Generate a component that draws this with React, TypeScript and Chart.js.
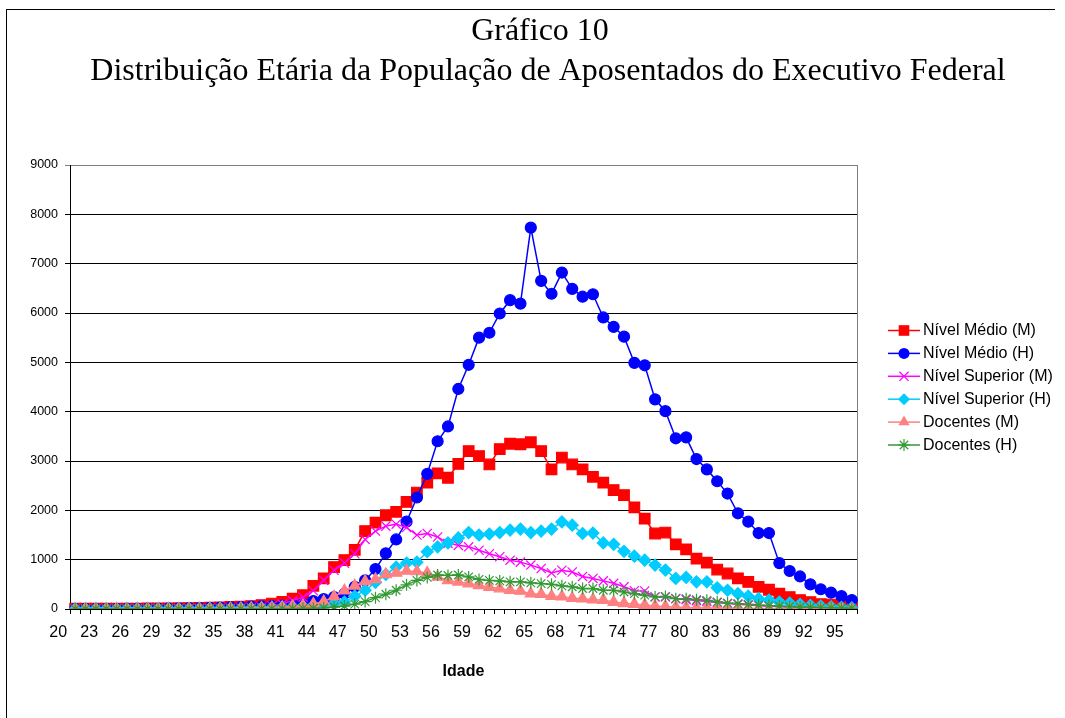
import React, { useEffect, useRef } from 'react';
import { Chart, registerables } from 'chart.js';

Chart.register(...registerables);

const ages = [
  '20', '21', '22', '23', '24', '25', '26', '27', '28', '29',
  '30', '31', '32', '33', '34', '35', '36', '37', '38', '39',
  '40', '41', '42', '43', '44', '45', '46', '47', '48', '49',
  '50', '51', '52', '53', '54', '55', '56', '57', '58', '59',
  '60', '61', '62', '63', '64', '65', '66', '67', '68', '69',
  '70', '71', '72', '73', '74', '75', '76', '77', '78', '79',
  '80', '81', '82', '83', '84', '85', '86', '87', '88', '89',
  '90', '91', '92', '93', '94', '95',
];

const shownAgeLabels = [
  '20', '23', '26', '29', '32', '35', '38', '41', '44', '47', '50', '53', '56',
  '59', '62', '65', '68', '71', '74', '77', '80', '83', '86', '89', '92', '95',
];

const nivelMedioM = [
  5, 5, 5, 5, 5, 8, 8, 10, 10, 12,
  15, 18, 20, 25, 30, 40, 50, 60, 80, 110,
  145, 210, 280, 470, 620, 850, 990, 1200, 1580, 1750,
  1900, 1970, 2170, 2360, 2560, 2750, 2660, 2940, 3200, 3100,
  2930, 3240, 3350, 3340, 3380, 3200, 2830, 3070, 2930, 2830,
  2680, 2560, 2410, 2310, 2060, 1830, 1530, 1550, 1310, 1210,
  1020, 940, 800, 720, 620, 550, 450, 390, 310, 240,
  180, 140, 100, 90, 70, 35,
];

const nivelMedioH = [
  5, 5, 5, 5, 5, 8, 8, 10, 10, 12,
  15, 18, 20, 25, 30, 35, 40, 50, 55, 60,
  70, 85, 110, 160, 200, 240, 310, 450, 580, 810,
  1130, 1410, 1770, 2260, 2740, 3400, 3700, 4460, 4950, 5500,
  5600, 5990, 6260, 6190, 7730, 6650, 6390, 6820, 6490, 6330,
  6380, 5910, 5720, 5520, 4990, 4940, 4250, 4010, 3460, 3480,
  3040, 2830, 2590, 2340, 1940, 1770, 1540, 1540, 930, 770,
  660, 500, 400, 330, 260, 180,
];

const nivelSuperiorM = [
  2, 2, 2, 2, 3, 3, 4, 4, 5, 5,
  6, 7, 8, 10, 12, 15, 20, 25, 35, 60,
  100, 170, 240, 370, 580, 785, 930, 1120, 1410, 1580,
  1680, 1720, 1650, 1500, 1530, 1460, 1330, 1290, 1260, 1190,
  1120, 1060, 990, 950, 890, 820, 730, 785, 750, 660,
  620, 570, 520, 450, 370, 365, 245, 245, 210, 190,
  170, 150, 130, 110, 95, 80, 65, 55, 45, 35,
  30, 25, 20, 15, 12, 10,
];

const nivelSuperiorH = [
  1, 1, 1, 1, 1, 2, 2, 2, 3, 3,
  4, 4, 5, 6, 8, 10, 12, 15, 20, 25,
  30, 40, 55, 70, 90, 110, 140, 260, 380, 540,
  700, 850, 930, 950, 1160, 1260, 1340, 1440, 1550, 1500,
  1520, 1550, 1600, 1620, 1550, 1580, 1620, 1765, 1700, 1530,
  1540, 1340, 1310, 1170, 1070, 990, 890, 790, 620, 640,
  550, 550, 430, 380, 310, 260, 210, 180, 140, 120,
  95, 75, 60, 45, 35, 25,
];

const docentesM = [
  1, 1, 1, 1, 1, 1, 2, 2, 2, 3,
  3, 4, 5, 6, 8, 10, 12, 15, 20, 25,
  35, 50, 70, 100, 150, 250, 370, 470, 560, 600,
  700, 730, 770, 760, 730, 650, 580, 550, 515, 480,
  445, 415, 380, 365, 310, 300, 260, 250, 220, 210,
  190, 180, 140, 115, 100, 80, 60, 50, 40, 30,
  25, 20, 18, 15, 12, 10, 8, 7, 6, 5,
  4, 3, 3, 2, 2, 1,
];

const docentesH = [
  0, 0, 0, 0, 0, 0, 1, 1, 1, 1,
  1, 2, 2, 2, 3, 3, 4, 5, 5, 6,
  8, 10, 12, 15, 20, 40, 60, 100, 150, 230,
  300, 380, 490, 580, 640, 690, 680, 690, 650, 600,
  580, 570, 550, 550, 530, 515, 500, 470, 450, 415,
  415, 380, 380, 345, 310, 280, 245, 255, 210, 210,
  190, 175, 145, 120, 110, 95, 80, 70, 60, 50,
  40, 35, 30, 25, 20, 15,
];

const seriesNames = [
  'Nível Médio (M)',
  'Nível Médio (H)',
  'Nível Superior (M)',
  'Nível Superior (H)',
  'Docentes (M)',
  'Docentes (H)',
];

const seriesValues = [nivelMedioM, nivelMedioH, nivelSuperiorM, nivelSuperiorH, docentesM, docentesH];

const titleLines = ['Gráfico 10', 'Distribuição Etária da População de Aposentados do Executivo Federal'];
const xAxisTitle = 'Idade';

const seriesStyles = [
  { color: '#FF0000', point: 'rect', radius: 7.5 },
  { color: '#0000FF', point: 'circle', radius: 5.5 },
  { color: '#FF00FF', point: 'crossRot', radius: 6.5 },
  { color: '#00CCFF', point: 'rectRot', radius: 6 },
  { color: '#FF8080', point: 'triangle', radius: 6.5 },
  { color: '#339933', point: 'star', radius: 6 },
];

const SANS = '"Liberation Sans", Arial, Helvetica, sans-serif';
const SERIF = '"Liberation Serif", "Times New Roman", serif';

function drawMarker(ctx: CanvasRenderingContext2D, style: string, x: number, y: number, r: number, color: string) {
  ctx.save();
  ctx.fillStyle = color;
  ctx.strokeStyle = color;
  ctx.lineWidth = 1.2;
  ctx.beginPath();
  if (style === 'rect') {
    const s = r * Math.SQRT1_2;
    ctx.rect(x - s, y - s, 2 * s, 2 * s);
    ctx.fill();
  } else if (style === 'circle') {
    ctx.arc(x, y, r, 0, Math.PI * 2);
    ctx.fill();
  } else if (style === 'rectRot') {
    ctx.moveTo(x, y - r);
    ctx.lineTo(x + r, y);
    ctx.lineTo(x, y + r);
    ctx.lineTo(x - r, y);
    ctx.closePath();
    ctx.fill();
  } else if (style === 'triangle') {
    for (let k = 0; k < 3; k++) {
      const a = (k * 2 * Math.PI) / 3;
      const px = x + Math.sin(a) * r;
      const py = y - Math.cos(a) * r;
      if (k === 0) ctx.moveTo(px, py);
      else ctx.lineTo(px, py);
    }
    ctx.closePath();
    ctx.fill();
  } else if (style === 'crossRot') {
    const d = r * Math.SQRT1_2;
    ctx.moveTo(x - d, y - d);
    ctx.lineTo(x + d, y + d);
    ctx.moveTo(x - d, y + d);
    ctx.lineTo(x + d, y - d);
    ctx.stroke();
  } else if (style === 'star') {
    const d = r * Math.SQRT1_2;
    ctx.moveTo(x - d, y - d);
    ctx.lineTo(x + d, y + d);
    ctx.moveTo(x - d, y + d);
    ctx.lineTo(x + d, y - d);
    ctx.moveTo(x, y - r);
    ctx.lineTo(x, y + r);
    ctx.moveTo(x - r, y);
    ctx.lineTo(x + r, y);
    ctx.stroke();
  }
  ctx.restore();
}

const decorPlugin = {
  id: 'decor',
  beforeDatasetsDraw(chart: any) {
    const { ctx, chartArea } = chart;
    ctx.save();
    ctx.strokeStyle = '#808080';
    ctx.lineWidth = 1;
    ctx.beginPath();
    ctx.moveTo(chartArea.right + 0.5, chartArea.top);
    ctx.lineTo(chartArea.right + 0.5, chartArea.bottom);
    ctx.stroke();
    ctx.restore();
  },
  afterDraw(chart: any) {
    const { ctx, chartArea } = chart;
    ctx.save();
    // Titles
    ctx.fillStyle = '#000';
    ctx.textAlign = 'center';
    ctx.textBaseline = 'middle';
    ctx.font = `32px ${SERIF}`;
    ctx.fillText(titleLines[0], 540, 32);
    ctx.fillText(titleLines[1], 548, 72);
    // Legend
    const x0 = chartArea.right + 31;
    const y0 = chartArea.top + 165.5;
    const step = 22.9;
    seriesNames.forEach((name, i) => {
      const st = seriesStyles[i];
      const y = y0 + i * step;
      ctx.strokeStyle = st.color;
      ctx.lineWidth = 1.5;
      ctx.beginPath();
      ctx.moveTo(x0, y);
      ctx.lineTo(x0 + 32, y);
      ctx.stroke();
      drawMarker(ctx, st.point, x0 + 16, y, st.radius, st.color);
      ctx.fillStyle = '#000';
      ctx.textAlign = 'left';
      ctx.textBaseline = 'middle';
      ctx.font = `16px ${SANS}`;
      ctx.fillText(name, x0 + 35, y + 0.5);
    });
    ctx.restore();
  },
};

export default function App() {
  const canvasRef = useRef<HTMLCanvasElement | null>(null);

  useEffect(() => {
    if (!canvasRef.current) return;
    const datasets = seriesNames.map((name, i) => {
      const st = seriesStyles[i];
      return {
        label: name,
        data: seriesValues[i],
        borderColor: st.color,
        backgroundColor: st.color,
        borderWidth: 1.5,
        pointStyle: st.point,
        pointRadius: st.radius,
        pointHoverRadius: st.radius,
        pointBorderWidth: 1.2,
        pointBorderColor: st.color,
        pointBackgroundColor: st.color,
        tension: 0,
        fill: false,
        order: 10 - i,
      };
    });

    const chart = new Chart(canvasRef.current, {
      type: 'line',
      data: { labels: ages, datasets },
      plugins: [decorPlugin],
      options: {
        responsive: false,
        animation: false,
        devicePixelRatio: 1,
        layout: { padding: { top: 165, right: 208, left: 0, bottom: 0 } },
        plugins: {
          legend: { display: false },
          title: { display: false },
          tooltip: { enabled: false },
        },
        events: [],
        scales: {
          x: {
            type: 'category',
            offset: true,
            grid: {
              display: true,
              drawOnChartArea: false,
              drawTicks: true,
              tickLength: 5,
              color: '#000',
              offset: true,
            },
            border: { display: true, color: '#000', width: 1 },
            ticks: {
              autoSkip: false,
              maxRotation: 0,
              minRotation: 0,
              padding: 9,
              labelOffset: -17,
              color: '#000',
              font: { family: SANS, size: 16 },
              callback: function (_value: any, index: number) {
                const lab = ages[index];
                return shownAgeLabels.includes(lab) ? lab : '';
              },
            },
            title: {
              display: true,
              text: xAxisTitle,
              color: '#000',
              font: { family: SANS, size: 16, weight: 'bold' },
              padding: { top: 0, bottom: 37 },
            },
            afterFit: (scale: any) => {
              scale.height = 109;
            },
          },
          y: {
            min: 0,
            max: 9000,
            ticks: {
              stepSize: 1000,
              padding: 7,
              color: '#000',
              font: { family: SANS, size: 12.5 },
              callback: (value: any) => String(value),
            },
            grid: {
              drawTicks: true,
              tickLength: 5,
              lineWidth: 1,
              color: (ctx: any) => (ctx.tick && ctx.tick.value === 9000 ? '#808080' : '#000000'),
            },
            border: { display: true, color: '#000', width: 1 },
            afterFit: (scale: any) => {
              scale.width = 70;
            },
          },
        },
      } as any,
    });
    return () => chart.destroy();
  }, []);

  return (
    <div
      style={{
        position: 'fixed',
        left: 0,
        top: 0,
        width: 1065,
        height: 718,
        background: '#fff',
        overflow: 'hidden',
      }}
    >
      <div
        style={{
          position: 'absolute',
          left: 6,
          top: 9,
          width: 1049,
          height: 720,
          borderLeft: '1px solid #000',
          borderTop: '1px solid #000',
          boxSizing: 'border-box',
        }}
      />
      <canvas
        ref={canvasRef}
        width={1065}
        height={718}
        style={{ position: 'absolute', left: 0, top: 0, width: 1065, height: 718 }}
      />
    </div>
  );
}
